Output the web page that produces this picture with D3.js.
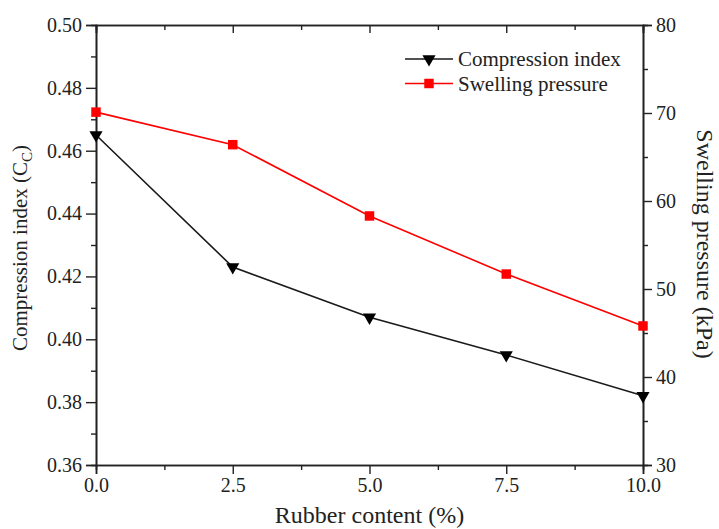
<!DOCTYPE html>
<html>
<head>
<meta charset="utf-8">
<script src="https://cdn.jsdelivr.net/npm/d3@7"></script>
<style>
  body { margin: 0; background: #fff; }
  text { font-family: "Liberation Serif", "Times New Roman", serif; fill: #222; }
</style>
</head>
<body>
<div id="chart"></div>
<script>
var rubber = [0, 2.5, 5.0, 7.5, 10.0];
var compressionIndex = [0.465, 0.423, 0.407, 0.395, 0.382];
var swellingPressure = [70.1, 66.4, 58.3, 51.7, 45.8];
var xTicks = [0, 2.5, 5.0, 7.5, 10.0];
var yLeftTicks = [0.36, 0.38, 0.40, 0.42, 0.44, 0.46, 0.48, 0.50];
var yRightTicks = [30, 40, 50, 60, 70, 80];

var W = 719, H = 529;
var margin = {top: 25, right: 76, bottom: 64, left: 96},
    width = W - margin.left - margin.right,
    height = H - margin.top - margin.bottom;

var svg = d3.select("#chart")
  .append("svg")
    .attr("width", W)
    .attr("height", H)
  .append("g")
    .attr("transform", "translate(" + margin.left + "," + margin.top + ")");

var x = d3.scaleLinear().domain([0, 10]).range([0, width]);
var yL = d3.scaleLinear().domain([0.36, 0.50]).range([height, 0]);
var yR = d3.scaleLinear().domain([30, 80]).range([height, 0]);

function minors(major) {
  var out = [];
  for (var i = 0; i < major.length - 1; i++) out.push((major[i] + major[i + 1]) / 2);
  return out;
}

// bottom axis
var gx = svg.append("g").attr("transform", "translate(0," + height + ")");
gx.call(d3.axisBottom(x).tickValues(xTicks).tickFormat(d3.format(".1f")).tickSize(9).tickPadding(4));
gx.append("g").call(d3.axisBottom(x).tickValues(minors(xTicks)).tickSize(5).tickFormat(""));

// top axis (ticks inward)
var gt = svg.append("g");
gt.call(d3.axisTop(x).tickValues(xTicks).tickSize(-8).tickFormat(""));
gt.append("g").call(d3.axisTop(x).tickValues(minors(xTicks)).tickSize(-5).tickFormat(""));

// left axis
var gl = svg.append("g");
gl.call(d3.axisLeft(yL).tickValues(yLeftTicks).tickFormat(d3.format(".2f")).tickSize(10).tickPadding(4));
gl.append("g").call(d3.axisLeft(yL).tickValues(minors(yLeftTicks)).tickSize(5).tickFormat(""));

// right axis
var gr = svg.append("g").attr("transform", "translate(" + width + ",0)");
gr.call(d3.axisRight(yR).tickValues(yRightTicks).tickSize(9).tickPadding(4));
gr.append("g").call(d3.axisRight(yR).tickValues(minors(yRightTicks)).tickSize(5).tickFormat(""));

svg.selectAll(".domain").attr("stroke", "#222").attr("stroke-width", 1.6);
svg.selectAll(".tick line").attr("stroke", "#222").attr("stroke-width", 1.4);
svg.selectAll(".tick text").style("font-size", "20px").style("font-family", "Liberation Serif").attr("fill", "#222");

// lines
var lineL = d3.line().x(function(d, i) { return x(rubber[i]); }).y(function(d) { return yL(d); });
var lineR = d3.line().x(function(d, i) { return x(rubber[i]); }).y(function(d) { return yR(d); });

svg.append("path").datum(swellingPressure)
  .attr("d", lineR).attr("fill", "none").attr("stroke", "#ff0000").attr("stroke-width", 1.6);
svg.append("path").datum(compressionIndex)
  .attr("d", lineL).attr("fill", "none").attr("stroke", "#1a1a1a").attr("stroke-width", 1.6);

var tri = d3.symbol().type(d3.symbolTriangle).size(75);
var sq = d3.symbol().type(d3.symbolSquare).size(90);

svg.selectAll("mytri")
  .data(compressionIndex)
  .enter()
  .append("path")
    .attr("d", tri)
    .attr("transform", function(d, i) { return "translate(" + x(rubber[i]) + "," + yL(d) + ") rotate(180)"; })
    .attr("fill", "#000");

svg.selectAll("mysq")
  .data(swellingPressure)
  .enter()
  .append("path")
    .attr("d", sq)
    .attr("transform", function(d, i) { return "translate(" + x(rubber[i]) + "," + yR(d) + ")"; })
    .attr("fill", "#ff0000");

// axis titles
svg.append("text")
  .attr("x", width / 2).attr("y", height + 58)
  .attr("text-anchor", "middle")
  .style("font-size", "24px")
  .text("Rubber content (%)");

var lt = svg.append("text")
  .attr("transform", "translate(" + (-69) + "," + (height / 2 + 3) + ") rotate(-90)")
  .attr("text-anchor", "middle")
  .style("font-size", "21px");
lt.append("tspan").text("Compression index (C");
lt.append("tspan").attr("dy", 5).style("font-size", "15px").text("C");
lt.append("tspan").attr("dy", -5).text(")");

svg.append("text")
  .attr("transform", "translate(" + (width + 54) + "," + (height / 2 - 1) + ") rotate(90)")
  .attr("text-anchor", "middle")
  .style("font-size", "24px")
  .text("Swelling pressure (kPa)");

// legend
var legend = [
  {name: "Compression index", color: "#1a1a1a", sym: tri, rot: 180},
  {name: "Swelling pressure", color: "#ff0000", sym: sq, rot: 0}
];
var lg = svg.selectAll("legend").data(legend).enter().append("g")
  .attr("transform", function(d, i) { return "translate(" + (405 - margin.left) + "," + (59 - margin.top + i * 24.5) + ")"; });
lg.append("line").attr("x1", 0).attr("x2", 48).attr("y1", 0).attr("y2", 0)
  .attr("stroke", function(d) { return d.color; }).attr("stroke-width", 1.4);
lg.append("path").attr("d", function(d) { return d.sym(); })
  .attr("transform", function(d) { return "translate(24,0) rotate(" + d.rot + ")"; })
  .attr("fill", function(d) { return d.color == "#1a1a1a" ? "#000" : d.color; });
lg.append("text").attr("x", 53).attr("y", 7)
  .style("font-size", "21px")
  .text(function(d) { return d.name; });
</script>
</body>
</html>
